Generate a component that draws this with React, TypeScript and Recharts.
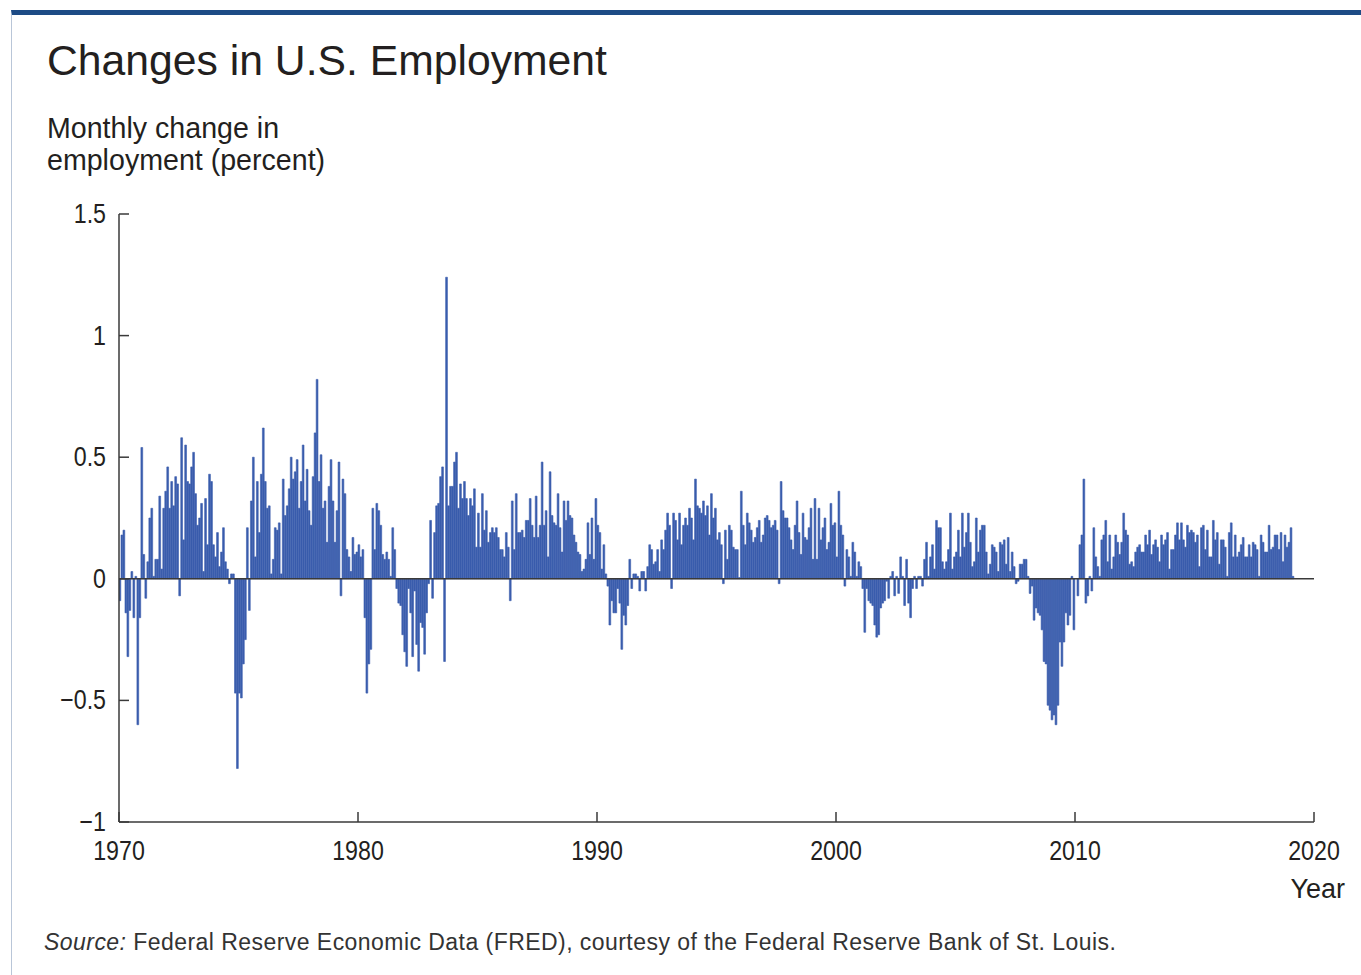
import { BarChart, Bar, XAxis, YAxis, ReferenceLine } from 'recharts';

// monthly % change in payroll employment, Jan of each decade onward
const values1970s = [
  -0.09, 0.18, 0.2, -0.14, -0.32, -0.13, 0.03, -0.16, 0.01, -0.6,
  -0.16, 0.54, 0.1, -0.08, 0.07, 0.25, 0.29, 0.01, 0.08, 0.08,
  0.34, 0.04, 0.29, 0.36, 0.46, 0.29, 0.4, 0.3, 0.42, 0.39,
  -0.07, 0.58, 0.16, 0.55, 0.4, 0.39, 0.46, 0.52, 0.35, 0.22,
  0.25, 0.31, 0.03, 0.33, 0.14, 0.43, 0.4, 0.14, 0.09, 0.19,
  0.05, 0.11, 0.21, 0.07, 0.04, -0.02, 0.02, 0.02, -0.47, -0.78,
  -0.47, -0.49, -0.35, -0.25, 0.21, -0.13, 0.32, 0.5, 0.09, 0.4,
  0.19, 0.43, 0.62, 0.4, 0.29, 0.3, 0.02, 0.08, 0.21, 0.2,
  0.23, 0.02, 0.41, 0.26, 0.3, 0.37, 0.5, 0.41, 0.44, 0.49,
  0.29, 0.4, 0.55, 0.32, 0.45, 0.28, 0.22, 0.42, 0.6, 0.82,
  0.4, 0.51, 0.29, 0.32, 0.15, 0.38, 0.49, 0.32, 0.15, 0.28,
  0.48, -0.07, 0.41, 0.35, 0.12, 0.09, 0.03, 0.17, 0.1, 0.11,
];

const values1980s = [
  0.14, 0.09, 0.12, -0.16, -0.47, -0.35, -0.29, 0.29, 0.12, 0.31,
  0.28, 0.22, 0.1, 0.08, 0.11, 0.08, 0.01, 0.21, 0.12, -0.04,
  -0.1, -0.11, -0.23, -0.3, -0.36, -0.04, -0.14, -0.32, -0.05, -0.27,
  -0.38, -0.18, -0.2, -0.31, -0.14, -0.02, 0.24, -0.08, 0.19, 0.3,
  0.31, 0.42, 0.46, -0.34, 1.24, 0.3, 0.38, 0.38, 0.48, 0.52,
  0.29, 0.39, 0.33, 0.4, 0.33, 0.26, 0.33, 0.3, 0.37, 0.13,
  0.27, 0.13, 0.35, 0.2, 0.28, 0.15, 0.19, 0.21, 0.19, 0.21,
  0.17, 0.12, 0.12, 0.09, 0.19, 0.13, -0.09, 0.32, 0.12, 0.35,
  0.19, 0.19, 0.2, 0.17, 0.24, 0.24, 0.33, 0.22, 0.17, 0.34,
  0.17, 0.22, 0.48, 0.22, 0.28, 0.09, 0.44, 0.26, 0.23, 0.22,
  0.35, 0.21, 0.11, 0.32, 0.24, 0.32, 0.26, 0.25, 0.18, 0.15,
  0.11, 0.1, 0.03, 0.04, 0.08, 0.23, 0.1, 0.25, 0.08, 0.33,
];

const values1990s = [
  0.22, 0.19, 0.04, 0.14, 0.02, -0.03, -0.19, -0.09, -0.14, -0.14,
  -0.04, -0.1, -0.29, -0.15, -0.19, -0.11, 0.08, -0.04, 0.02, 0.02,
  0.01, -0.05, 0.03, 0.03, -0.05, 0.05, 0.14, 0.12, 0.06, 0.07,
  0.12, 0.03, 0.16, 0.12, 0.2, 0.27, 0.22, -0.04, 0.27, 0.24,
  0.16, 0.27, 0.14, 0.22, 0.25, 0.22, 0.29, 0.25, 0.16, 0.41,
  0.3, 0.29, 0.27, 0.32, 0.26, 0.3, 0.18, 0.35, 0.25, 0.29,
  0.16, 0.19, 0.14, -0.02, 0.2, 0.08, 0.22, 0.2, 0.13, 0.12,
  0.12, 0.005, 0.36, 0.22, 0.14, 0.27, 0.23, 0.2, 0.15, 0.17,
  0.21, 0.24, 0.15, 0.18, 0.25, 0.26, 0.24, 0.21, 0.22, 0.24,
  0.2, -0.02, 0.4, 0.28, 0.25, 0.25, 0.21, 0.16, 0.12, 0.22,
  0.32, 0.19, 0.1, 0.27, 0.17, 0.16, 0.21, 0.29, 0.08, 0.33,
  0.08, 0.29, 0.16, 0.21, 0.25, 0.12, 0.15, 0.31, 0.22, 0.23,
];

const values2000s = [
  0.09, 0.36, 0.22, 0.18, -0.03, 0.12, 0.09, 0.01, 0.15, 0.11,
  0.01, 0.07, 0.05, -0.04, -0.22, -0.04, -0.09, -0.1, -0.11, -0.19,
  -0.24, -0.23, -0.12, -0.1, -0.09, -0.01, -0.08, 0.01, 0.03, -0.07,
  0.01, -0.06, 0.09, 0.01, -0.11, 0.08, -0.1, -0.16, -0.04, 0.01,
  -0.04, 0.01, 0.01, -0.03, 0.08, 0.15, 0.01, 0.09, 0.14, 0.04,
  0.24, 0.21, 0.21, 0.07, 0.04, 0.07, 0.12, 0.27, 0.04, 0.09,
  0.11, 0.2, 0.09, 0.27, 0.13, 0.19, 0.27, 0.15, 0.05, 0.07,
  0.25, 0.11, 0.2, 0.22, 0.22, 0.11, 0.02, 0.06, 0.14, 0.13,
  0.11, 0.03, 0.15, 0.14, 0.16, 0.06, 0.17, 0.03, 0.11, 0.05,
  -0.02, -0.01, 0.06, 0.06, 0.08, 0.08, 0.01, -0.06, -0.03, -0.17,
  -0.12, -0.14, -0.15, -0.21, -0.34, -0.35, -0.52, -0.54, -0.58, -0.56,
  -0.6, -0.52, -0.26, -0.36, -0.26, -0.14, -0.19, -0.15, 0.01, -0.21,
];

const values2010s = [
  0.0, -0.07, 0.14, 0.18, 0.41, -0.1, -0.07, 0.01, -0.05, 0.21,
  0.09, 0.05, 0.01, 0.16, 0.18, 0.24, 0.07, 0.18, 0.04, 0.09,
  0.18, 0.15, 0.1, 0.15, 0.27, 0.2, 0.18, 0.06, 0.07, 0.05,
  0.11, 0.13, 0.14, 0.11, 0.11, 0.18, 0.14, 0.2, 0.1, 0.14,
  0.16, 0.13, 0.07, 0.18, 0.14, 0.16, 0.19, 0.04, 0.12, 0.12,
  0.18, 0.23, 0.16, 0.23, 0.16, 0.13, 0.22, 0.19, 0.2, 0.19,
  0.15, 0.18, 0.05, 0.21, 0.22, 0.12, 0.2, 0.09, 0.09, 0.24,
  0.16, 0.19, 0.06, 0.16, 0.16, 0.13, 0.01, 0.19, 0.23, 0.09,
  0.18, 0.09, 0.11, 0.14, 0.17, 0.09, 0.09, 0.14, 0.09, 0.15,
  0.14, 0.12, 0.01, 0.18, 0.15, 0.11, 0.11, 0.22, 0.12, 0.13,
  0.18, 0.18, 0.12, 0.19, 0.07, 0.18, 0.13, 0.15, 0.21, 0.01,
];

const START_YEAR = 1970;
const yearTicks = [1970, 1980, 1990, 2000, 2010, 2020];
const percentTicks = [-1, -0.5, 0, 0.5, 1, 1.5];

const monthly = [...values1970s, ...values1980s, ...values1990s, ...values2000s, ...values2010s];
const data = monthly.map((change, i) => ({ t: START_YEAR + (i + 0.5) / 12, change }));

const W = 1361;
const H = 975;
const PLOT = { left: 119, top: 214, right: 1314, bottom: 822 };
const Y_AXIS_W = 60;
const X_AXIS_H = 60;
const AXIS = '#3a3a3a';
const BAR = '#3a5dad';
const INK = '#231f20';
const FONT = '"Liberation Sans", Arial, Helvetica, sans-serif';

const fmt = (v: number) => (v < 0 ? '\u2212' + Math.abs(v) : String(v));

function YTick({ y, payload }: any) {
  return (
    <g>
      <line x1={PLOT.left} x2={PLOT.left + 10} y1={y} y2={y} stroke={AXIS} strokeWidth={1.5} />
      <g transform={`translate(${PLOT.left - 13},${y + 9}) scale(0.86,1)`}>
        <text textAnchor="end" fontSize={27} fill={INK} fontFamily={FONT}>{fmt(payload.value)}</text>
      </g>
    </g>
  );
}

function XTick({ x, payload }: any) {
  return (
    <g>
      <line x1={x} x2={x} y1={PLOT.bottom} y2={PLOT.bottom - 10} stroke={AXIS} strokeWidth={1.5} />
      <g transform={`translate(${x},${PLOT.bottom + 38}) scale(0.86,1)`}>
        <text textAnchor="middle" fontSize={27} fill={INK} fontFamily={FONT}>{payload.value}</text>
      </g>
    </g>
  );
}

export default function App() {
  return (
    <div style={{ position: 'absolute', left: 0, top: 0, width: W, height: H, background: '#fff', fontFamily: FONT, color: INK }}>
      <div style={{ position: 'absolute', left: 11, top: 10, right: 0, bottom: 0, borderTop: '5px solid #1d4b85', borderLeft: '1px solid #b9c6d8' }} />
      <div style={{ position: 'absolute', left: 47, top: 39, fontSize: 42.7, lineHeight: '1', whiteSpace: 'nowrap' }}>
        Changes in U.S. Employment
      </div>
      <div style={{ position: 'absolute', left: 47, top: 112, fontSize: 28.6, lineHeight: '32px' }}>
        Monthly change in<br />employment (percent)
      </div>
      <div style={{ position: 'absolute', right: W - 1345, top: 876, fontSize: 27, lineHeight: '1' }}>Year</div>
      <div style={{ position: 'absolute', left: 44, top: 931, fontSize: 23, letterSpacing: 0.45, lineHeight: '1', whiteSpace: 'nowrap', color: '#333' }}>
        <i>Source:</i> Federal Reserve Economic Data (FRED), courtesy of the Federal Reserve Bank of St. Louis.
      </div>
      <div style={{ position: 'absolute', left: 0, top: 0 }}>
        <BarChart
          width={W}
          height={H}
          data={data}
          margin={{ top: PLOT.top, right: W - PLOT.right, bottom: H - PLOT.bottom - X_AXIS_H, left: PLOT.left - Y_AXIS_W }}
          barGap={0}
        >
          <XAxis
            dataKey="t"
            type="number"
            domain={[1970, 2020]}
            ticks={yearTicks}
            allowDataOverflow
            height={X_AXIS_H}
            tickLine={false}
            axisLine={{ stroke: AXIS, strokeWidth: 1.5 }}
            tick={<XTick />}
            interval={0}
          />
          <YAxis
            type="number"
            domain={[-1, 1.5]}
            ticks={percentTicks}
            allowDataOverflow
            width={Y_AXIS_W}
            tickLine={false}
            axisLine={{ stroke: AXIS, strokeWidth: 1.5 }}
            tick={<YTick />}
            interval={0}
          />
          <Bar dataKey="change" fill={BAR} stroke={BAR} strokeWidth={0.6} barSize={2} isAnimationActive={false} />
          <ReferenceLine y={0} stroke={AXIS} strokeWidth={1.5} />
        </BarChart>
      </div>
    </div>
  );
}
